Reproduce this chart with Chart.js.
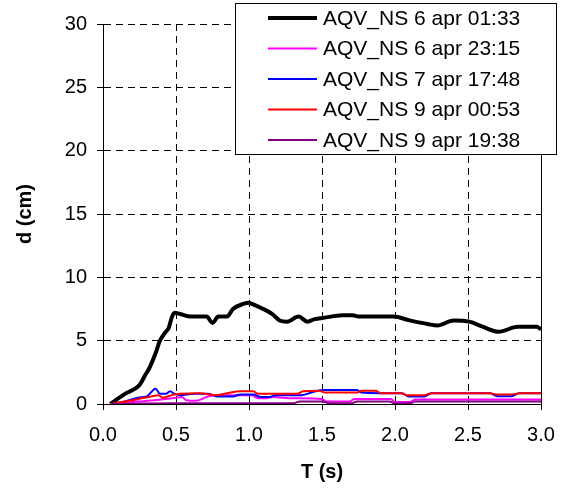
<!DOCTYPE html>
<html>
<head>
<meta charset="utf-8">
<script src="https://cdn.jsdelivr.net/npm/chart.js@4.4.1/dist/chart.umd.min.js"></script>
<style>
  html, body { margin: 0; padding: 0; background: #fff; }
  canvas { display: block; }
</style>
</head>
<body>
<canvas id="c" width="569" height="490"></canvas>
<script>
// ---- data ----
const seriesLabels = [
  "AQV_NS 6 apr 01:33",
  "AQV_NS 6 apr 23:15",
  "AQV_NS 7 apr 17:48",
  "AQV_NS 9 apr 00:53",
  "AQV_NS 9 apr 19:38"
];
const xTickValues = [0, 0.5, 1.0, 1.5, 2.0, 2.5, 3.0];
const yTickValues = [0, 5, 10, 15, 20, 25, 30];

const tS1 = [0.05, 0.15, 0.25, 0.29, 0.32, 0.36, 0.39, 0.43, 0.45, 0.47, 0.49, 0.53, 0.60, 0.71, 0.75, 0.79, 0.85, 0.89, 0.96, 1.00, 1.02, 1.08, 1.16, 1.21, 1.26, 1.34, 1.40, 1.45, 1.51, 1.64, 1.71, 1.75, 1.99, 2.10, 2.23, 2.29, 2.40, 2.51, 2.60, 2.71, 2.84, 2.97, 3.00];
const dS1 = [0.0, 0.8, 1.5, 2.3, 2.9, 4.0, 5.0, 5.7, 6.0, 6.8, 7.2, 7.1, 6.9, 6.9, 6.4, 6.9, 6.9, 7.5, 7.9, 8.0, 7.9, 7.6, 7.1, 6.6, 6.5, 6.9, 6.5, 6.7, 6.8, 7.0, 7.0, 6.9, 6.9, 6.6, 6.3, 6.2, 6.6, 6.5, 6.1, 5.7, 6.1, 6.1, 5.9];

const tS2 = [0.05, 0.20, 0.35, 0.50, 0.54, 0.57, 0.64, 0.72, 0.78, 1.02, 1.06, 1.12, 1.16, 1.30, 1.50, 1.53, 1.69, 1.72, 1.97, 2.00, 2.10, 2.14, 3.00];
const dS2 = [0.0, 0.15, 0.3, 0.5, 0.55, 0.3, 0.25, 0.6, 0.7, 0.7, 0.45, 0.45, 0.55, 0.45, 0.4, 0.2, 0.2, 0.4, 0.4, 0.15, 0.15, 0.35, 0.35];

const tS3 = [0.05, 0.15, 0.24, 0.30, 0.36, 0.39, 0.43, 0.46, 0.49, 0.53, 0.62, 0.72, 0.78, 0.89, 0.94, 1.03, 1.08, 1.14, 1.18, 1.36, 1.44, 1.51, 1.74, 1.77, 1.90, 2.05, 2.09, 2.20, 2.25, 2.65, 2.70, 2.80, 2.85, 3.00];
const dS3 = [0.0, 0.2, 0.5, 0.6, 1.2, 0.8, 0.8, 1.0, 0.8, 0.7, 0.8, 0.8, 0.6, 0.6, 0.75, 0.75, 0.55, 0.55, 0.7, 0.7, 0.95, 1.1, 1.1, 0.9, 0.85, 0.85, 0.6, 0.6, 0.85, 0.85, 0.62, 0.62, 0.85, 0.85];

const tS4 = [0.05, 0.20, 0.33, 0.38, 0.41, 0.47, 0.53, 0.66, 0.78, 0.85, 0.94, 1.03, 1.06, 1.33, 1.37, 1.48, 1.52, 1.74, 1.77, 1.87, 1.90, 2.04, 2.08, 2.20, 2.25, 2.65, 2.70, 2.80, 2.85, 3.00];
const dS4 = [0.0, 0.3, 0.6, 0.7, 0.5, 0.7, 0.8, 0.85, 0.7, 0.85, 1.0, 1.0, 0.8, 0.8, 1.0, 1.05, 0.9, 0.9, 1.05, 1.05, 0.85, 0.85, 0.7, 0.7, 0.85, 0.85, 0.75, 0.75, 0.85, 0.85];

const tS5 = [0.05, 0.50, 1.30, 1.35, 1.50, 1.55, 1.70, 1.74, 1.96, 2.00, 2.10, 2.14, 3.00];
const dS5 = [0.0, 0.05, 0.05, 0.2, 0.2, 0.05, 0.05, 0.2, 0.2, 0.05, 0.05, 0.2, 0.2];

// ---- build chart ----
const FONT = '"Liberation Sans", Arial, sans-serif';
Chart.defaults.font.family = FONT;
Chart.defaults.color = '#000';

function pts(t, d) { return t.map((v, i) => ({ x: v, y: d[i] })); }

const seriesT = [tS1, tS2, tS3, tS4, tS5];
const seriesD = [dS1, dS2, dS3, dS4, dS5];
const colors = ['#000000', '#FF00FF', '#0000FF', '#FF0000', '#800080'];
const widths = [4, 2, 2, 2, 2];

const datasets = seriesLabels.map((lab, i) => ({
  label: lab,
  data: pts(seriesT[i], seriesD[i]),
  borderColor: colors[i],
  backgroundColor: colors[i],
  borderWidth: widths[i],
  pointRadius: 0,
  fill: false,
  cubicInterpolationMode: 'monotone',
  order: seriesLabels.length - i
}));

const legendPlugin = {
  id: 'boxLegend',
  afterDraw(chart) {
    const ctx = chart.ctx;
    const L = 235.5, T = 3.5, R = 556.5, B = 154.5;
    ctx.save();
    ctx.fillStyle = '#fff';
    ctx.fillRect(L, T, R - L, B - T);
    ctx.strokeStyle = '#000';
    ctx.lineWidth = 1;
    ctx.setLineDash([]);
    ctx.strokeRect(L, T, R - L, B - T);
    const rows = [18, 48.5, 79, 109.5, 140];
    chart.data.datasets.forEach((ds, i) => {
      const y = rows[i];
      ctx.beginPath();
      ctx.strokeStyle = ds.borderColor;
      ctx.lineWidth = ds.borderWidth;
      ctx.moveTo(268, y);
      ctx.lineTo(317, y);
      ctx.stroke();
      ctx.fillStyle = '#000';
      ctx.font = '21px ' + FONT;
      ctx.textAlign = 'left';
      ctx.textBaseline = 'middle';
      ctx.fillText(ds.label, 323, y + 1);
    });
    ctx.restore();
  }
};

const gridDash = (c) => (c.tick && c.tick.value === 3) ? [] : [7, 5];

new Chart(document.getElementById('c'), {
  type: 'line',
  data: { datasets },
  options: {
    responsive: false,
    animation: false,
    layout: { padding: { top: 24, right: 28, left: 0, bottom: 0 } },
    plugins: { legend: { display: false }, tooltip: { enabled: false } },
    scales: {
      x: {
        type: 'linear',
        min: 0, max: 3,
        afterBuildTicks: (s) => { s.ticks = xTickValues.map(v => ({ value: v })); },
        afterFit: (s) => { s.height = 86; },
        ticks: {
          font: { size: 20 },
          color: '#000',
          padding: 13,
          maxRotation: 0,
          callback: (v) => Number(v).toFixed(1)
        },
        grid: {
          color: '#000',
          lineWidth: 1,
          drawTicks: true,
          tickLength: 6,
          tickColor: '#000',
          tickBorderDash: []
        },
        border: { display: true, color: '#000', width: 1, dash: gridDash },
        title: {
          display: true,
          text: 'T (s)',
          font: { size: 20, weight: 'bold' },
          color: '#000',
          padding: { top: 0, bottom: 6 }
        }
      },
      y: {
        type: 'linear',
        min: 0, max: 30,
        afterBuildTicks: (s) => { s.ticks = yTickValues.map(v => ({ value: v })); },
        afterFit: (s) => { s.width = 103; },
        ticks: {
          font: { size: 20 },
          color: '#000',
          padding: 10
        },
        grid: {
          color: '#000',
          lineWidth: 1,
          drawTicks: true,
          tickLength: 6,
          tickColor: '#000',
          tickBorderDash: []
        },
        border: { display: true, color: '#000', width: 1, dash: [7, 5] },
        title: {
          display: true,
          text: 'd (cm)',
          font: { size: 20, weight: 'bold' },
          color: '#000',
          padding: { top: 13, bottom: 0 }
        }
      }
    }
  },
  plugins: [legendPlugin]
});
</script>
</body>
</html>
